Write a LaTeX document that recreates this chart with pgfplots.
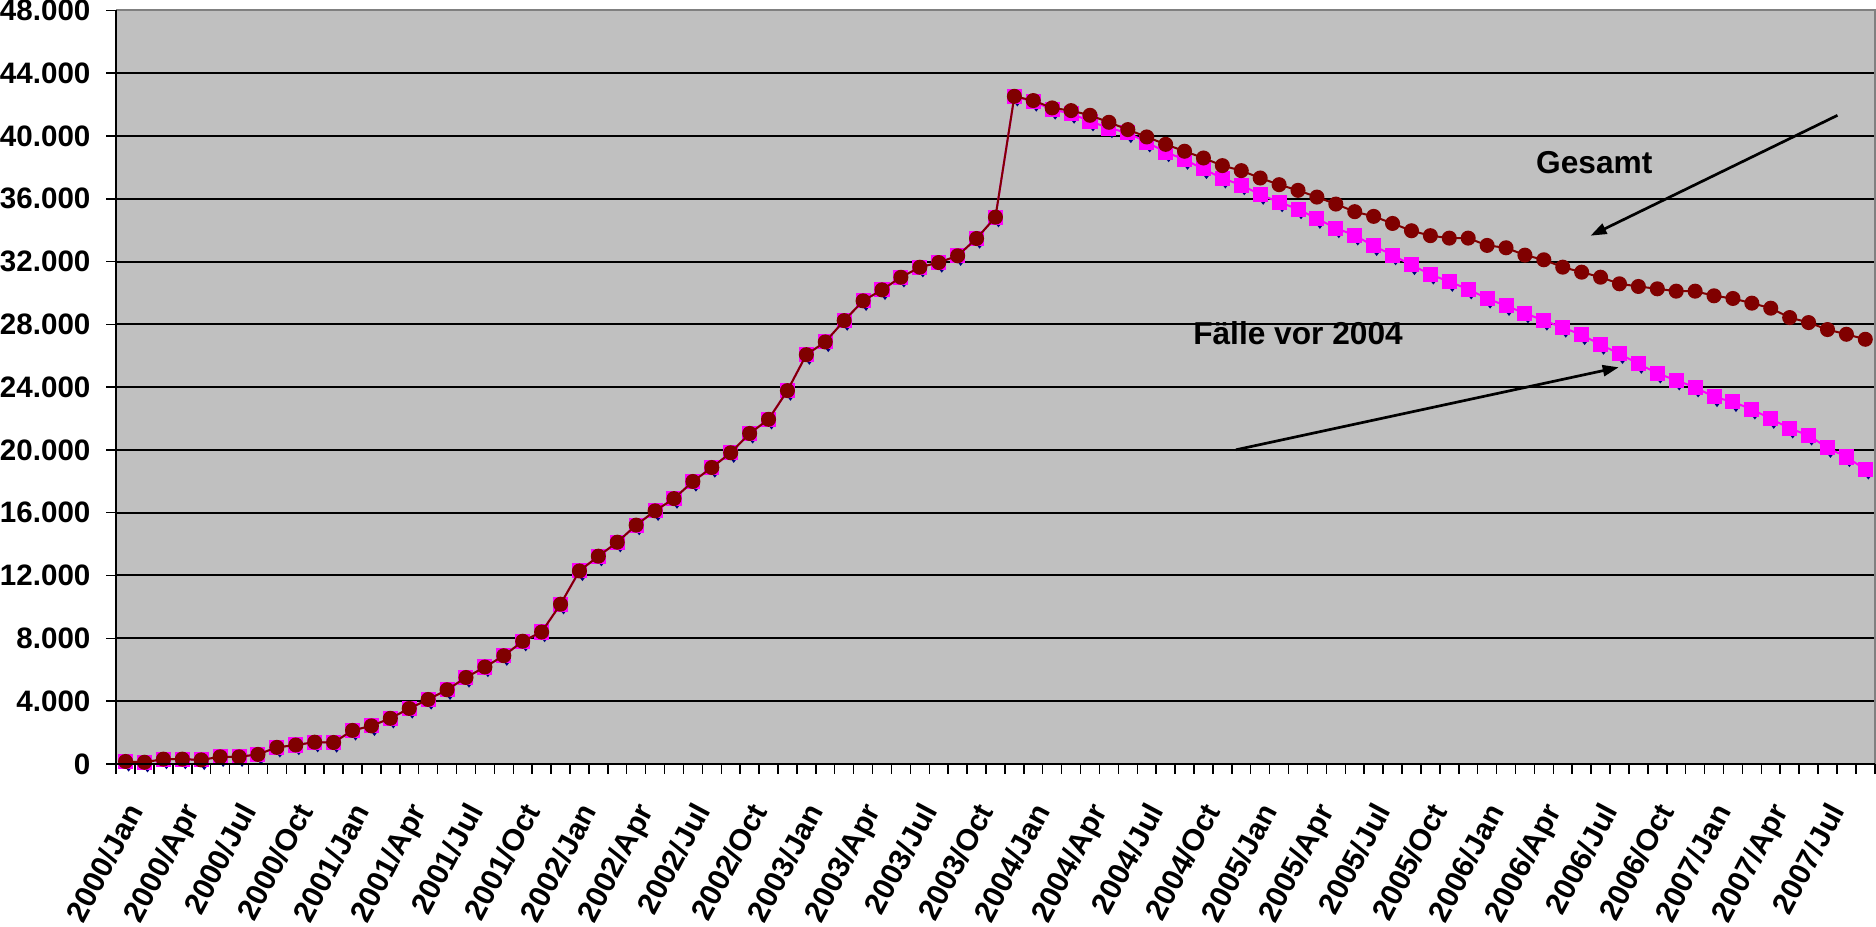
\documentclass[border=0pt]{standalone}
\usepackage{fontspec}
\setmainfont{Liberation Sans}
\usepackage{pgfplots}
\usepackage{pgfplotstable}
\pgfplotsset{compat=1.18}
\usetikzlibrary{arrows.meta}
\definecolor{bg}{RGB}{192,192,192}
\definecolor{maroonc}{RGB}{128,0,0}
\definecolor{magc}{RGB}{255,0,255}
\definecolor{navyc}{RGB}{0,0,128}
\definecolor{bordergray}{RGB}{128,128,128}

\pgfplotstableread{
x g f
0 150 150
1 100 100
2 300 300
3 300 300
4 250 250
5 450 450
6 450 450
7 600 600
8 1050 1050
9 1200 1200
10 1380 1380
11 1360 1360
12 2130 2130
13 2420 2420
14 2900 2900
15 3530 3530
16 4100 4100
17 4720 4720
18 5500 5500
19 6170 6170
20 6890 6890
21 7810 7810
22 8400 8400
23 10170 10170
24 12290 12290
25 13230 13230
26 14120 14120
27 15210 15210
28 16120 16120
29 16900 16900
30 17990 17990
31 18880 18880
32 19820 19820
33 21050 21050
34 21950 21950
35 23780 23780
36 26070 26070
37 26880 26880
38 28240 28240
39 29500 29500
40 30200 30200
41 31000 31000
42 31640 31640
43 31940 31940
44 32370 32370
45 33470 33470
46 34830 34830
47 42530 42530
48 42260 42200
49 41790 41690
50 41620 41430
51 41320 40940
52 40875 40510
53 40410 40195
54 39940 39600
55 39470 38980
56 39030 38495
57 38600 37900
58 38115 37305
59 37795 36875
60 37325 36265
61 36900 35790
62 36540 35345
63 36110 34730
64 35665 34135
65 35180 33670
66 34880 33000
67 34430 32410
68 33965 31785
69 33650 31180
70 33495 30720
71 33495 30240
72 33030 29650
73 32880 29180
74 32410 28710
75 32115 28245
76 31645 27800
77 31325 27330
78 31005 26710
79 30585 26120
80 30415 25500
81 30265 24880
82 30115 24435
83 30115 23990
84 29820 23375
85 29650 23060
86 29350 22585
87 29030 21990
88 28435 21375
89 28115 20925
90 27670 20140
91 27370 19550
92 27050 18760
}\data

\begin{document}
\begin{tikzpicture}
\begin{axis}[
  scale only axis,
  width=175.63mm, height=75.24mm,
  xmin=-0.5, xmax=92.5, ymin=0, ymax=48000,
  clip mode=individual,
  scaled y ticks=false,
  axis background/.style={fill=bg},
  axis line style={draw=none},
  ytick={0,4000,...,48000},
  yticklabels={0,4.000,8.000,12.000,16.000,20.000,24.000,28.000,32.000,36.000,40.000,44.000,48.000},
  ymajorgrids,
  grid style={black, line width=0.2mm},
  xtick={0,3,...,90},
  xticklabels={2000/Jan,2000/Apr,2000/Jul,2000/Oct,2001/Jan,2001/Apr,2001/Jul,2001/Oct,2002/Jan,2002/Apr,2002/Jul,2002/Oct,2003/Jan,2003/Apr,2003/Jul,2003/Oct,2004/Jan,2004/Apr,2004/Jul,2004/Oct,2005/Jan,2005/Apr,2005/Jul,2005/Oct,2006/Jan,2006/Apr,2006/Jul,2006/Oct,2007/Jan,2007/Apr,2007/Jul},
  minor xtick={-0.5,0.5,...,92.5},
  tick pos=left,
  tick align=outside,
  major tick length=1mm,
  minor tick length=1mm,
  every tick/.style={black, line width=0.15mm},
  every major x tick/.style={draw=none},
  yticklabel style={font=\bfseries\fontsize{8.4}{9}\selectfont, anchor=east, inner sep=0pt, xshift=-1.5mm},
  xticklabel style={font=\bfseries\fontsize{8.6}{9}\selectfont, xshift=-0.15mm, yshift=-2.6mm, rotate=62, anchor=north east, inner sep=0pt},
]
\addplot[draw=none, mark=diamond*, mark size=0.45mm,
  mark options={fill=navyc, draw=navyc, xshift=0.3mm, yshift=-0.45mm}] table[x=x,y=f]{\data};
\addplot[magc, line width=0.2mm, mark=square*, mark size=0.65mm,
  mark options={fill=magc, draw=magc}] table[x=x,y=f]{\data};
\addplot[maroonc, line width=0.2mm, mark=*, mark size=0.65mm,
  mark options={fill=maroonc, draw=maroonc}] table[x=x,y=g]{\data};

\draw[bordergray, line width=0.2mm] (rel axis cs:0,1) -- (rel axis cs:1,1) -- (rel axis cs:1,0);
\draw[black, line width=0.25mm] (rel axis cs:0,1) -- (rel axis cs:0,0) -- (rel axis cs:1,0);

\node[font=\bfseries\fontsize{9}{10}\selectfont] at (axis cs:77.67,38320) {Gesamt};
\node[font=\bfseries\fontsize{9}{10}\selectfont] at (axis cs:62.0,27420) {Fälle vor 2004};
\draw[-{Triangle[length=1.6mm,width=1.1mm]}, line width=0.27mm] (axis cs:90.53,41320) -- (axis cs:77.47,33650);
\draw[-{Triangle[length=1.6mm,width=1.1mm]}, line width=0.27mm] (axis cs:58.72,20010) -- (axis cs:78.96,25265);
\end{axis}
\end{tikzpicture}
\end{document}
